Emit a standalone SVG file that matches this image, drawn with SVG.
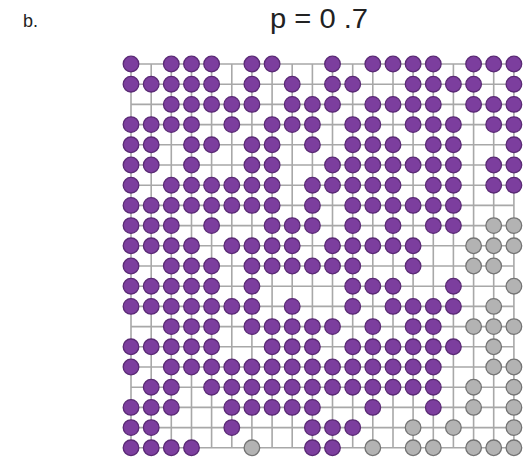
<svg xmlns="http://www.w3.org/2000/svg" width="526" height="458" viewBox="0 0 526 458">
<style>
.grid{stroke:#a8a8a8;stroke-width:1.6;fill:none}
.p{fill:#7c3e9e;stroke:#5a2a75;stroke-width:1.3}
.g{fill:#b3b3b3;stroke:#747474;stroke-width:1.3}
.t{font-family:"Liberation Sans","DejaVu Sans",sans-serif;fill:#222}
</style>
<rect width="526" height="458" fill="#fff"/>
<text class="t" x="23" y="27" font-size="18">b.</text>
<text class="t" x="270" y="28" font-size="27" textLength="98" lengthAdjust="spacingAndGlyphs">p = 0 .7</text>
<g id="connectors" class="grid">
<path d="M131 64H513.9M131 84.2H513.9M131 104.4H513.9M131 124.6H513.9M131 144.8H513.9M131 165H513.9M131 185.2H513.9M131 205.4H513.9M131 225.6H513.9M131 245.8H513.9M131 266H513.9M131 286.2H513.9M131 306.4H513.9M131 326.6H513.9M131 346.8H513.9M131 367H513.9M131 387.2H513.9M131 407.4H513.9M131 427.6H513.9M131 447.8H513.9"/>
<path d="M131 64V447.8M151.2 64V447.8M171.3 64V447.8M191.5 64V447.8M211.6 64V447.8M231.8 64V447.8M251.9 64V447.8M272.1 64V447.8M292.2 64V447.8M312.4 64V447.8M332.5 64V447.8M352.7 64V447.8M372.8 64V447.8M393 64V447.8M413.1 64V447.8M433.3 64V447.8M453.4 64V447.8M473.6 64V447.8M493.7 64V447.8M513.9 64V447.8"/>
</g>
<g id="nodes">
<g id="r0">
<g id="n0-0"><circle class="p" cx="131" cy="64" r="7.8"/></g>
<g id="n0-2"><circle class="p" cx="171.3" cy="64" r="7.8"/></g>
<g id="n0-3"><circle class="p" cx="191.5" cy="64" r="7.8"/></g>
<g id="n0-4"><circle class="p" cx="211.6" cy="64" r="7.8"/></g>
<g id="n0-6"><circle class="p" cx="251.9" cy="64" r="7.8"/></g>
<g id="n0-7"><circle class="p" cx="272.1" cy="64" r="7.8"/></g>
<g id="n0-10"><circle class="p" cx="332.5" cy="64" r="7.8"/></g>
<g id="n0-12"><circle class="p" cx="372.8" cy="64" r="7.8"/></g>
<g id="n0-13"><circle class="p" cx="393" cy="64" r="7.8"/></g>
<g id="n0-14"><circle class="p" cx="413.1" cy="64" r="7.8"/></g>
<g id="n0-15"><circle class="p" cx="433.3" cy="64" r="7.8"/></g>
<g id="n0-17"><circle class="p" cx="473.6" cy="64" r="7.8"/></g>
<g id="n0-18"><circle class="p" cx="493.7" cy="64" r="7.8"/></g>
<g id="n0-19"><circle class="p" cx="513.9" cy="64" r="7.8"/></g>
</g>
<g id="r1">
<g id="n1-0"><circle class="p" cx="131" cy="84.2" r="7.8"/></g>
<g id="n1-1"><circle class="p" cx="151.2" cy="84.2" r="7.8"/></g>
<g id="n1-2"><circle class="p" cx="171.3" cy="84.2" r="7.8"/></g>
<g id="n1-3"><circle class="p" cx="191.5" cy="84.2" r="7.8"/></g>
<g id="n1-4"><circle class="p" cx="211.6" cy="84.2" r="7.8"/></g>
<g id="n1-6"><circle class="p" cx="251.9" cy="84.2" r="7.8"/></g>
<g id="n1-8"><circle class="p" cx="292.2" cy="84.2" r="7.8"/></g>
<g id="n1-10"><circle class="p" cx="332.5" cy="84.2" r="7.8"/></g>
<g id="n1-11"><circle class="p" cx="352.7" cy="84.2" r="7.8"/></g>
<g id="n1-14"><circle class="p" cx="413.1" cy="84.2" r="7.8"/></g>
<g id="n1-15"><circle class="p" cx="433.3" cy="84.2" r="7.8"/></g>
<g id="n1-16"><circle class="p" cx="453.4" cy="84.2" r="7.8"/></g>
<g id="n1-17"><circle class="p" cx="473.6" cy="84.2" r="7.8"/></g>
<g id="n1-19"><circle class="p" cx="513.9" cy="84.2" r="7.8"/></g>
</g>
<g id="r2">
<g id="n2-2"><circle class="p" cx="171.3" cy="104.4" r="7.8"/></g>
<g id="n2-3"><circle class="p" cx="191.5" cy="104.4" r="7.8"/></g>
<g id="n2-4"><circle class="p" cx="211.6" cy="104.4" r="7.8"/></g>
<g id="n2-5"><circle class="p" cx="231.8" cy="104.4" r="7.8"/></g>
<g id="n2-6"><circle class="p" cx="251.9" cy="104.4" r="7.8"/></g>
<g id="n2-8"><circle class="p" cx="292.2" cy="104.4" r="7.8"/></g>
<g id="n2-9"><circle class="p" cx="312.4" cy="104.4" r="7.8"/></g>
<g id="n2-10"><circle class="p" cx="332.5" cy="104.4" r="7.8"/></g>
<g id="n2-12"><circle class="p" cx="372.8" cy="104.4" r="7.8"/></g>
<g id="n2-13"><circle class="p" cx="393" cy="104.4" r="7.8"/></g>
<g id="n2-14"><circle class="p" cx="413.1" cy="104.4" r="7.8"/></g>
<g id="n2-15"><circle class="p" cx="433.3" cy="104.4" r="7.8"/></g>
<g id="n2-17"><circle class="p" cx="473.6" cy="104.4" r="7.8"/></g>
<g id="n2-18"><circle class="p" cx="493.7" cy="104.4" r="7.8"/></g>
<g id="n2-19"><circle class="p" cx="513.9" cy="104.4" r="7.8"/></g>
</g>
<g id="r3">
<g id="n3-0"><circle class="p" cx="131" cy="124.6" r="7.8"/></g>
<g id="n3-1"><circle class="p" cx="151.2" cy="124.6" r="7.8"/></g>
<g id="n3-2"><circle class="p" cx="171.3" cy="124.6" r="7.8"/></g>
<g id="n3-3"><circle class="p" cx="191.5" cy="124.6" r="7.8"/></g>
<g id="n3-5"><circle class="p" cx="231.8" cy="124.6" r="7.8"/></g>
<g id="n3-7"><circle class="p" cx="272.1" cy="124.6" r="7.8"/></g>
<g id="n3-8"><circle class="p" cx="292.2" cy="124.6" r="7.8"/></g>
<g id="n3-9"><circle class="p" cx="312.4" cy="124.6" r="7.8"/></g>
<g id="n3-11"><circle class="p" cx="352.7" cy="124.6" r="7.8"/></g>
<g id="n3-12"><circle class="p" cx="372.8" cy="124.6" r="7.8"/></g>
<g id="n3-14"><circle class="p" cx="413.1" cy="124.6" r="7.8"/></g>
<g id="n3-15"><circle class="p" cx="433.3" cy="124.6" r="7.8"/></g>
<g id="n3-16"><circle class="p" cx="453.4" cy="124.6" r="7.8"/></g>
<g id="n3-18"><circle class="p" cx="493.7" cy="124.6" r="7.8"/></g>
<g id="n3-19"><circle class="p" cx="513.9" cy="124.6" r="7.8"/></g>
</g>
<g id="r4">
<g id="n4-0"><circle class="p" cx="131" cy="144.8" r="7.8"/></g>
<g id="n4-1"><circle class="p" cx="151.2" cy="144.8" r="7.8"/></g>
<g id="n4-3"><circle class="p" cx="191.5" cy="144.8" r="7.8"/></g>
<g id="n4-4"><circle class="p" cx="211.6" cy="144.8" r="7.8"/></g>
<g id="n4-6"><circle class="p" cx="251.9" cy="144.8" r="7.8"/></g>
<g id="n4-7"><circle class="p" cx="272.1" cy="144.8" r="7.8"/></g>
<g id="n4-9"><circle class="p" cx="312.4" cy="144.8" r="7.8"/></g>
<g id="n4-11"><circle class="p" cx="352.7" cy="144.8" r="7.8"/></g>
<g id="n4-12"><circle class="p" cx="372.8" cy="144.8" r="7.8"/></g>
<g id="n4-13"><circle class="p" cx="393" cy="144.8" r="7.8"/></g>
<g id="n4-15"><circle class="p" cx="433.3" cy="144.8" r="7.8"/></g>
<g id="n4-16"><circle class="p" cx="453.4" cy="144.8" r="7.8"/></g>
<g id="n4-19"><circle class="p" cx="513.9" cy="144.8" r="7.8"/></g>
</g>
<g id="r5">
<g id="n5-0"><circle class="p" cx="131" cy="165" r="7.8"/></g>
<g id="n5-1"><circle class="p" cx="151.2" cy="165" r="7.8"/></g>
<g id="n5-3"><circle class="p" cx="191.5" cy="165" r="7.8"/></g>
<g id="n5-6"><circle class="p" cx="251.9" cy="165" r="7.8"/></g>
<g id="n5-7"><circle class="p" cx="272.1" cy="165" r="7.8"/></g>
<g id="n5-10"><circle class="p" cx="332.5" cy="165" r="7.8"/></g>
<g id="n5-11"><circle class="p" cx="352.7" cy="165" r="7.8"/></g>
<g id="n5-12"><circle class="p" cx="372.8" cy="165" r="7.8"/></g>
<g id="n5-13"><circle class="p" cx="393" cy="165" r="7.8"/></g>
<g id="n5-14"><circle class="p" cx="413.1" cy="165" r="7.8"/></g>
<g id="n5-15"><circle class="p" cx="433.3" cy="165" r="7.8"/></g>
<g id="n5-16"><circle class="p" cx="453.4" cy="165" r="7.8"/></g>
<g id="n5-18"><circle class="p" cx="493.7" cy="165" r="7.8"/></g>
<g id="n5-19"><circle class="p" cx="513.9" cy="165" r="7.8"/></g>
</g>
<g id="r6">
<g id="n6-0"><circle class="p" cx="131" cy="185.2" r="7.8"/></g>
<g id="n6-2"><circle class="p" cx="171.3" cy="185.2" r="7.8"/></g>
<g id="n6-3"><circle class="p" cx="191.5" cy="185.2" r="7.8"/></g>
<g id="n6-4"><circle class="p" cx="211.6" cy="185.2" r="7.8"/></g>
<g id="n6-5"><circle class="p" cx="231.8" cy="185.2" r="7.8"/></g>
<g id="n6-6"><circle class="p" cx="251.9" cy="185.2" r="7.8"/></g>
<g id="n6-7"><circle class="p" cx="272.1" cy="185.2" r="7.8"/></g>
<g id="n6-9"><circle class="p" cx="312.4" cy="185.2" r="7.8"/></g>
<g id="n6-10"><circle class="p" cx="332.5" cy="185.2" r="7.8"/></g>
<g id="n6-11"><circle class="p" cx="352.7" cy="185.2" r="7.8"/></g>
<g id="n6-12"><circle class="p" cx="372.8" cy="185.2" r="7.8"/></g>
<g id="n6-13"><circle class="p" cx="393" cy="185.2" r="7.8"/></g>
<g id="n6-15"><circle class="p" cx="433.3" cy="185.2" r="7.8"/></g>
<g id="n6-16"><circle class="p" cx="453.4" cy="185.2" r="7.8"/></g>
<g id="n6-18"><circle class="p" cx="493.7" cy="185.2" r="7.8"/></g>
<g id="n6-19"><circle class="p" cx="513.9" cy="185.2" r="7.8"/></g>
</g>
<g id="r7">
<g id="n7-0"><circle class="p" cx="131" cy="205.4" r="7.8"/></g>
<g id="n7-1"><circle class="p" cx="151.2" cy="205.4" r="7.8"/></g>
<g id="n7-2"><circle class="p" cx="171.3" cy="205.4" r="7.8"/></g>
<g id="n7-3"><circle class="p" cx="191.5" cy="205.4" r="7.8"/></g>
<g id="n7-4"><circle class="p" cx="211.6" cy="205.4" r="7.8"/></g>
<g id="n7-5"><circle class="p" cx="231.8" cy="205.4" r="7.8"/></g>
<g id="n7-6"><circle class="p" cx="251.9" cy="205.4" r="7.8"/></g>
<g id="n7-7"><circle class="p" cx="272.1" cy="205.4" r="7.8"/></g>
<g id="n7-9"><circle class="p" cx="312.4" cy="205.4" r="7.8"/></g>
<g id="n7-11"><circle class="p" cx="352.7" cy="205.4" r="7.8"/></g>
<g id="n7-12"><circle class="p" cx="372.8" cy="205.4" r="7.8"/></g>
<g id="n7-13"><circle class="p" cx="393" cy="205.4" r="7.8"/></g>
<g id="n7-14"><circle class="p" cx="413.1" cy="205.4" r="7.8"/></g>
<g id="n7-15"><circle class="p" cx="433.3" cy="205.4" r="7.8"/></g>
<g id="n7-16"><circle class="p" cx="453.4" cy="205.4" r="7.8"/></g>
</g>
<g id="r8">
<g id="n8-0"><circle class="p" cx="131" cy="225.6" r="7.8"/></g>
<g id="n8-1"><circle class="p" cx="151.2" cy="225.6" r="7.8"/></g>
<g id="n8-2"><circle class="p" cx="171.3" cy="225.6" r="7.8"/></g>
<g id="n8-4"><circle class="p" cx="211.6" cy="225.6" r="7.8"/></g>
<g id="n8-7"><circle class="p" cx="272.1" cy="225.6" r="7.8"/></g>
<g id="n8-8"><circle class="p" cx="292.2" cy="225.6" r="7.8"/></g>
<g id="n8-9"><circle class="p" cx="312.4" cy="225.6" r="7.8"/></g>
<g id="n8-11"><circle class="p" cx="352.7" cy="225.6" r="7.8"/></g>
<g id="n8-13"><circle class="p" cx="393" cy="225.6" r="7.8"/></g>
<g id="n8-15"><circle class="p" cx="433.3" cy="225.6" r="7.8"/></g>
<g id="n8-16"><circle class="p" cx="453.4" cy="225.6" r="7.8"/></g>
<g id="n8-18"><circle class="g" cx="493.7" cy="225.6" r="7.8"/></g>
<g id="n8-19"><circle class="g" cx="513.9" cy="225.6" r="7.8"/></g>
</g>
<g id="r9">
<g id="n9-0"><circle class="p" cx="131" cy="245.8" r="7.8"/></g>
<g id="n9-1"><circle class="p" cx="151.2" cy="245.8" r="7.8"/></g>
<g id="n9-2"><circle class="p" cx="171.3" cy="245.8" r="7.8"/></g>
<g id="n9-3"><circle class="p" cx="191.5" cy="245.8" r="7.8"/></g>
<g id="n9-5"><circle class="p" cx="231.8" cy="245.8" r="7.8"/></g>
<g id="n9-6"><circle class="p" cx="251.9" cy="245.8" r="7.8"/></g>
<g id="n9-7"><circle class="p" cx="272.1" cy="245.8" r="7.8"/></g>
<g id="n9-8"><circle class="p" cx="292.2" cy="245.8" r="7.8"/></g>
<g id="n9-10"><circle class="p" cx="332.5" cy="245.8" r="7.8"/></g>
<g id="n9-11"><circle class="p" cx="352.7" cy="245.8" r="7.8"/></g>
<g id="n9-12"><circle class="p" cx="372.8" cy="245.8" r="7.8"/></g>
<g id="n9-13"><circle class="p" cx="393" cy="245.8" r="7.8"/></g>
<g id="n9-14"><circle class="p" cx="413.1" cy="245.8" r="7.8"/></g>
<g id="n9-17"><circle class="g" cx="473.6" cy="245.8" r="7.8"/></g>
<g id="n9-18"><circle class="g" cx="493.7" cy="245.8" r="7.8"/></g>
<g id="n9-19"><circle class="g" cx="513.9" cy="245.8" r="7.8"/></g>
</g>
<g id="r10">
<g id="n10-0"><circle class="p" cx="131" cy="266" r="7.8"/></g>
<g id="n10-2"><circle class="p" cx="171.3" cy="266" r="7.8"/></g>
<g id="n10-3"><circle class="p" cx="191.5" cy="266" r="7.8"/></g>
<g id="n10-4"><circle class="p" cx="211.6" cy="266" r="7.8"/></g>
<g id="n10-6"><circle class="p" cx="251.9" cy="266" r="7.8"/></g>
<g id="n10-7"><circle class="p" cx="272.1" cy="266" r="7.8"/></g>
<g id="n10-8"><circle class="p" cx="292.2" cy="266" r="7.8"/></g>
<g id="n10-9"><circle class="p" cx="312.4" cy="266" r="7.8"/></g>
<g id="n10-10"><circle class="p" cx="332.5" cy="266" r="7.8"/></g>
<g id="n10-11"><circle class="p" cx="352.7" cy="266" r="7.8"/></g>
<g id="n10-14"><circle class="p" cx="413.1" cy="266" r="7.8"/></g>
<g id="n10-17"><circle class="g" cx="473.6" cy="266" r="7.8"/></g>
<g id="n10-18"><circle class="g" cx="493.7" cy="266" r="7.8"/></g>
</g>
<g id="r11">
<g id="n11-0"><circle class="p" cx="131" cy="286.2" r="7.8"/></g>
<g id="n11-1"><circle class="p" cx="151.2" cy="286.2" r="7.8"/></g>
<g id="n11-2"><circle class="p" cx="171.3" cy="286.2" r="7.8"/></g>
<g id="n11-3"><circle class="p" cx="191.5" cy="286.2" r="7.8"/></g>
<g id="n11-4"><circle class="p" cx="211.6" cy="286.2" r="7.8"/></g>
<g id="n11-6"><circle class="p" cx="251.9" cy="286.2" r="7.8"/></g>
<g id="n11-11"><circle class="p" cx="352.7" cy="286.2" r="7.8"/></g>
<g id="n11-12"><circle class="p" cx="372.8" cy="286.2" r="7.8"/></g>
<g id="n11-13"><circle class="p" cx="393" cy="286.2" r="7.8"/></g>
<g id="n11-16"><circle class="p" cx="453.4" cy="286.2" r="7.8"/></g>
<g id="n11-19"><circle class="g" cx="513.9" cy="286.2" r="7.8"/></g>
</g>
<g id="r12">
<g id="n12-0"><circle class="p" cx="131" cy="306.4" r="7.8"/></g>
<g id="n12-1"><circle class="p" cx="151.2" cy="306.4" r="7.8"/></g>
<g id="n12-2"><circle class="p" cx="171.3" cy="306.4" r="7.8"/></g>
<g id="n12-3"><circle class="p" cx="191.5" cy="306.4" r="7.8"/></g>
<g id="n12-4"><circle class="p" cx="211.6" cy="306.4" r="7.8"/></g>
<g id="n12-5"><circle class="p" cx="231.8" cy="306.4" r="7.8"/></g>
<g id="n12-6"><circle class="p" cx="251.9" cy="306.4" r="7.8"/></g>
<g id="n12-8"><circle class="p" cx="292.2" cy="306.4" r="7.8"/></g>
<g id="n12-11"><circle class="p" cx="352.7" cy="306.4" r="7.8"/></g>
<g id="n12-13"><circle class="p" cx="393" cy="306.4" r="7.8"/></g>
<g id="n12-14"><circle class="p" cx="413.1" cy="306.4" r="7.8"/></g>
<g id="n12-15"><circle class="p" cx="433.3" cy="306.4" r="7.8"/></g>
<g id="n12-16"><circle class="p" cx="453.4" cy="306.4" r="7.8"/></g>
<g id="n12-18"><circle class="g" cx="493.7" cy="306.4" r="7.8"/></g>
</g>
<g id="r13">
<g id="n13-2"><circle class="p" cx="171.3" cy="326.6" r="7.8"/></g>
<g id="n13-3"><circle class="p" cx="191.5" cy="326.6" r="7.8"/></g>
<g id="n13-4"><circle class="p" cx="211.6" cy="326.6" r="7.8"/></g>
<g id="n13-6"><circle class="p" cx="251.9" cy="326.6" r="7.8"/></g>
<g id="n13-7"><circle class="p" cx="272.1" cy="326.6" r="7.8"/></g>
<g id="n13-8"><circle class="p" cx="292.2" cy="326.6" r="7.8"/></g>
<g id="n13-9"><circle class="p" cx="312.4" cy="326.6" r="7.8"/></g>
<g id="n13-10"><circle class="p" cx="332.5" cy="326.6" r="7.8"/></g>
<g id="n13-12"><circle class="p" cx="372.8" cy="326.6" r="7.8"/></g>
<g id="n13-14"><circle class="p" cx="413.1" cy="326.6" r="7.8"/></g>
<g id="n13-15"><circle class="p" cx="433.3" cy="326.6" r="7.8"/></g>
<g id="n13-17"><circle class="g" cx="473.6" cy="326.6" r="7.8"/></g>
<g id="n13-18"><circle class="g" cx="493.7" cy="326.6" r="7.8"/></g>
<g id="n13-19"><circle class="g" cx="513.9" cy="326.6" r="7.8"/></g>
</g>
<g id="r14">
<g id="n14-0"><circle class="p" cx="131" cy="346.8" r="7.8"/></g>
<g id="n14-1"><circle class="p" cx="151.2" cy="346.8" r="7.8"/></g>
<g id="n14-2"><circle class="p" cx="171.3" cy="346.8" r="7.8"/></g>
<g id="n14-3"><circle class="p" cx="191.5" cy="346.8" r="7.8"/></g>
<g id="n14-4"><circle class="p" cx="211.6" cy="346.8" r="7.8"/></g>
<g id="n14-7"><circle class="p" cx="272.1" cy="346.8" r="7.8"/></g>
<g id="n14-8"><circle class="p" cx="292.2" cy="346.8" r="7.8"/></g>
<g id="n14-9"><circle class="p" cx="312.4" cy="346.8" r="7.8"/></g>
<g id="n14-11"><circle class="p" cx="352.7" cy="346.8" r="7.8"/></g>
<g id="n14-12"><circle class="p" cx="372.8" cy="346.8" r="7.8"/></g>
<g id="n14-13"><circle class="p" cx="393" cy="346.8" r="7.8"/></g>
<g id="n14-14"><circle class="p" cx="413.1" cy="346.8" r="7.8"/></g>
<g id="n14-15"><circle class="p" cx="433.3" cy="346.8" r="7.8"/></g>
<g id="n14-16"><circle class="p" cx="453.4" cy="346.8" r="7.8"/></g>
<g id="n14-18"><circle class="g" cx="493.7" cy="346.8" r="7.8"/></g>
</g>
<g id="r15">
<g id="n15-0"><circle class="p" cx="131" cy="367" r="7.8"/></g>
<g id="n15-2"><circle class="p" cx="171.3" cy="367" r="7.8"/></g>
<g id="n15-3"><circle class="p" cx="191.5" cy="367" r="7.8"/></g>
<g id="n15-4"><circle class="p" cx="211.6" cy="367" r="7.8"/></g>
<g id="n15-5"><circle class="p" cx="231.8" cy="367" r="7.8"/></g>
<g id="n15-6"><circle class="p" cx="251.9" cy="367" r="7.8"/></g>
<g id="n15-7"><circle class="p" cx="272.1" cy="367" r="7.8"/></g>
<g id="n15-8"><circle class="p" cx="292.2" cy="367" r="7.8"/></g>
<g id="n15-9"><circle class="p" cx="312.4" cy="367" r="7.8"/></g>
<g id="n15-10"><circle class="p" cx="332.5" cy="367" r="7.8"/></g>
<g id="n15-11"><circle class="p" cx="352.7" cy="367" r="7.8"/></g>
<g id="n15-12"><circle class="p" cx="372.8" cy="367" r="7.8"/></g>
<g id="n15-13"><circle class="p" cx="393" cy="367" r="7.8"/></g>
<g id="n15-14"><circle class="p" cx="413.1" cy="367" r="7.8"/></g>
<g id="n15-15"><circle class="p" cx="433.3" cy="367" r="7.8"/></g>
<g id="n15-18"><circle class="g" cx="493.7" cy="367" r="7.8"/></g>
<g id="n15-19"><circle class="g" cx="513.9" cy="367" r="7.8"/></g>
</g>
<g id="r16">
<g id="n16-1"><circle class="p" cx="151.2" cy="387.2" r="7.8"/></g>
<g id="n16-2"><circle class="p" cx="171.3" cy="387.2" r="7.8"/></g>
<g id="n16-4"><circle class="p" cx="211.6" cy="387.2" r="7.8"/></g>
<g id="n16-5"><circle class="p" cx="231.8" cy="387.2" r="7.8"/></g>
<g id="n16-6"><circle class="p" cx="251.9" cy="387.2" r="7.8"/></g>
<g id="n16-7"><circle class="p" cx="272.1" cy="387.2" r="7.8"/></g>
<g id="n16-8"><circle class="p" cx="292.2" cy="387.2" r="7.8"/></g>
<g id="n16-9"><circle class="p" cx="312.4" cy="387.2" r="7.8"/></g>
<g id="n16-10"><circle class="p" cx="332.5" cy="387.2" r="7.8"/></g>
<g id="n16-11"><circle class="p" cx="352.7" cy="387.2" r="7.8"/></g>
<g id="n16-12"><circle class="p" cx="372.8" cy="387.2" r="7.8"/></g>
<g id="n16-13"><circle class="p" cx="393" cy="387.2" r="7.8"/></g>
<g id="n16-14"><circle class="p" cx="413.1" cy="387.2" r="7.8"/></g>
<g id="n16-15"><circle class="p" cx="433.3" cy="387.2" r="7.8"/></g>
<g id="n16-17"><circle class="g" cx="473.6" cy="387.2" r="7.8"/></g>
<g id="n16-19"><circle class="g" cx="513.9" cy="387.2" r="7.8"/></g>
</g>
<g id="r17">
<g id="n17-0"><circle class="p" cx="131" cy="407.4" r="7.8"/></g>
<g id="n17-1"><circle class="p" cx="151.2" cy="407.4" r="7.8"/></g>
<g id="n17-2"><circle class="p" cx="171.3" cy="407.4" r="7.8"/></g>
<g id="n17-5"><circle class="p" cx="231.8" cy="407.4" r="7.8"/></g>
<g id="n17-6"><circle class="p" cx="251.9" cy="407.4" r="7.8"/></g>
<g id="n17-7"><circle class="p" cx="272.1" cy="407.4" r="7.8"/></g>
<g id="n17-8"><circle class="p" cx="292.2" cy="407.4" r="7.8"/></g>
<g id="n17-9"><circle class="p" cx="312.4" cy="407.4" r="7.8"/></g>
<g id="n17-12"><circle class="p" cx="372.8" cy="407.4" r="7.8"/></g>
<g id="n17-15"><circle class="p" cx="433.3" cy="407.4" r="7.8"/></g>
<g id="n17-17"><circle class="g" cx="473.6" cy="407.4" r="7.8"/></g>
<g id="n17-19"><circle class="g" cx="513.9" cy="407.4" r="7.8"/></g>
</g>
<g id="r18">
<g id="n18-0"><circle class="p" cx="131" cy="427.6" r="7.8"/></g>
<g id="n18-1"><circle class="p" cx="151.2" cy="427.6" r="7.8"/></g>
<g id="n18-5"><circle class="p" cx="231.8" cy="427.6" r="7.8"/></g>
<g id="n18-9"><circle class="p" cx="312.4" cy="427.6" r="7.8"/></g>
<g id="n18-10"><circle class="p" cx="332.5" cy="427.6" r="7.8"/></g>
<g id="n18-11"><circle class="p" cx="352.7" cy="427.6" r="7.8"/></g>
<g id="n18-14"><circle class="g" cx="413.1" cy="427.6" r="7.8"/></g>
<g id="n18-16"><circle class="g" cx="453.4" cy="427.6" r="7.8"/></g>
<g id="n18-19"><circle class="g" cx="513.9" cy="427.6" r="7.8"/></g>
</g>
<g id="r19">
<g id="n19-0"><circle class="p" cx="131" cy="447.8" r="7.8"/></g>
<g id="n19-1"><circle class="p" cx="151.2" cy="447.8" r="7.8"/></g>
<g id="n19-2"><circle class="p" cx="171.3" cy="447.8" r="7.8"/></g>
<g id="n19-3"><circle class="p" cx="191.5" cy="447.8" r="7.8"/></g>
<g id="n19-6"><circle class="g" cx="251.9" cy="447.8" r="7.8"/></g>
<g id="n19-9"><circle class="p" cx="312.4" cy="447.8" r="7.8"/></g>
<g id="n19-10"><circle class="p" cx="332.5" cy="447.8" r="7.8"/></g>
<g id="n19-12"><circle class="g" cx="372.8" cy="447.8" r="7.8"/></g>
<g id="n19-14"><circle class="g" cx="413.1" cy="447.8" r="7.8"/></g>
<g id="n19-15"><circle class="g" cx="433.3" cy="447.8" r="7.8"/></g>
<g id="n19-17"><circle class="g" cx="473.6" cy="447.8" r="7.8"/></g>
<g id="n19-18"><circle class="g" cx="493.7" cy="447.8" r="7.8"/></g>
<g id="n19-19"><circle class="g" cx="513.9" cy="447.8" r="7.8"/></g>
</g>
</g>
</svg>
